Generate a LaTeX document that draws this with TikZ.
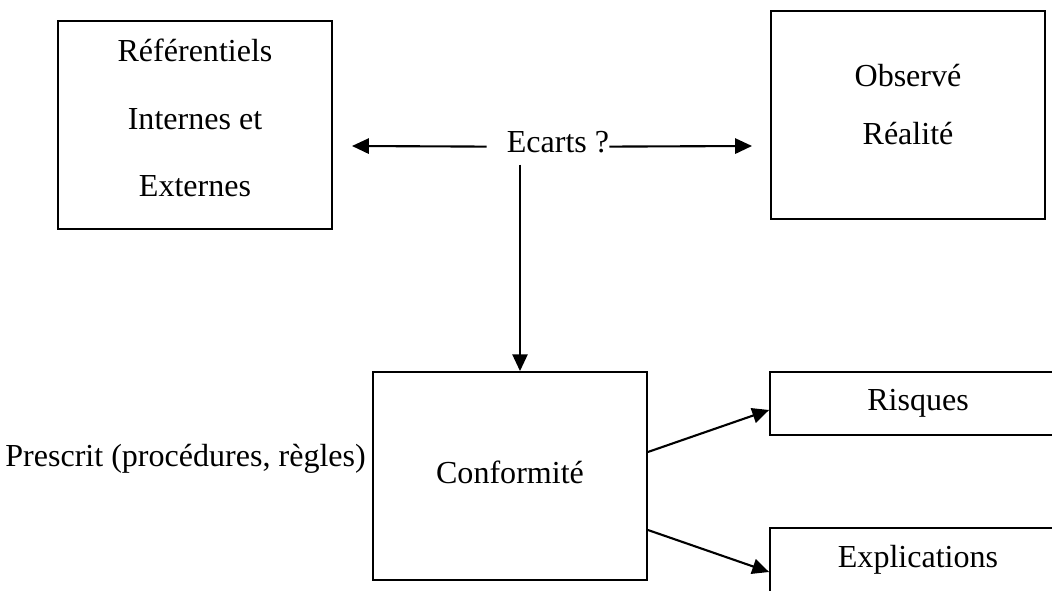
\documentclass[tikz,border=0pt]{standalone}
\usepackage{fontspec}
\setmainfont{Liberation Serif}
\usetikzlibrary{calc}
\usetikzlibrary{positioning}
\usetikzlibrary{arrows.meta}

\begin{document}
\begin{tikzpicture}[
        box/.style={draw,line width=1.3pt,align=center,inner sep=0pt,font=\fontsize{22.8}{27}\selectfont},
        arr/.style={line width=1.5pt,-{Triangle[length=0.42cm,width=0.38cm]}},
        txt/.style={inner sep=0pt,font=\fontsize{22.8}{27}\selectfont}]
        \useasboundingbox (0,0) rectangle (26.3,14.75);

        % top row
        \node[box,minimum width=6.85cm,minimum height=5.2cm,text depth=10pt,font=\fontsize{22.8}{48}\selectfont] (ref) at (4.875,11.625) {Référentiels\\Internes et\\Externes};
        \node[box,minimum width=6.85cm,minimum height=5.2cm,text depth=15.6pt,font=\fontsize{22.8}{41.3}\selectfont] (obs) at (22.7,11.875) {Observé\\Réalité};
        \node[txt,anchor=base] (ecarts) at (13.95,10.925) {Ecarts ?};

        % bottom row
        \node[box,minimum width=6.85cm,minimum height=5.2cm,text depth=5.7pt] (conf) at (12.75,2.85) {Conformité};
        \node[txt,anchor=base east] (presc) at ($(conf.west)+(-0.15,0.225)$) {Prescrit (procédures, règles)};
        \node[box,minimum width=7.4cm,minimum height=1.575cm] (risk) at (22.95,4.6625) {Risques};
        \node[box,minimum width=7.4cm,minimum height=1.6cm] (expl) at (22.95,0.75) {Explications};

        \coordinate (lt) at (8.8,11.1);
        \coordinate (rt) at (18.8,11.1);
        \coordinate (dn) at ($(ecarts.south)+(-0.95,-0.275)$);
        \draw[arr] ($(ecarts.west)+(-0.5,-0.1)$)--(lt);
        \draw[arr] ($(ecarts.east)+(0,-0.1)$)--(rt);
        \draw[arr] (dn)--(dn |- conf.north);
        \draw[arr] ($(conf.east)+(0,0.6)$)--($(risk.west)+(0,-0.1625)$);
        \draw[arr] ($(conf.east)+(0,-1.35)$)--($(expl.west)+(0,-0.3)$);
    \end{tikzpicture}
\end{document}
